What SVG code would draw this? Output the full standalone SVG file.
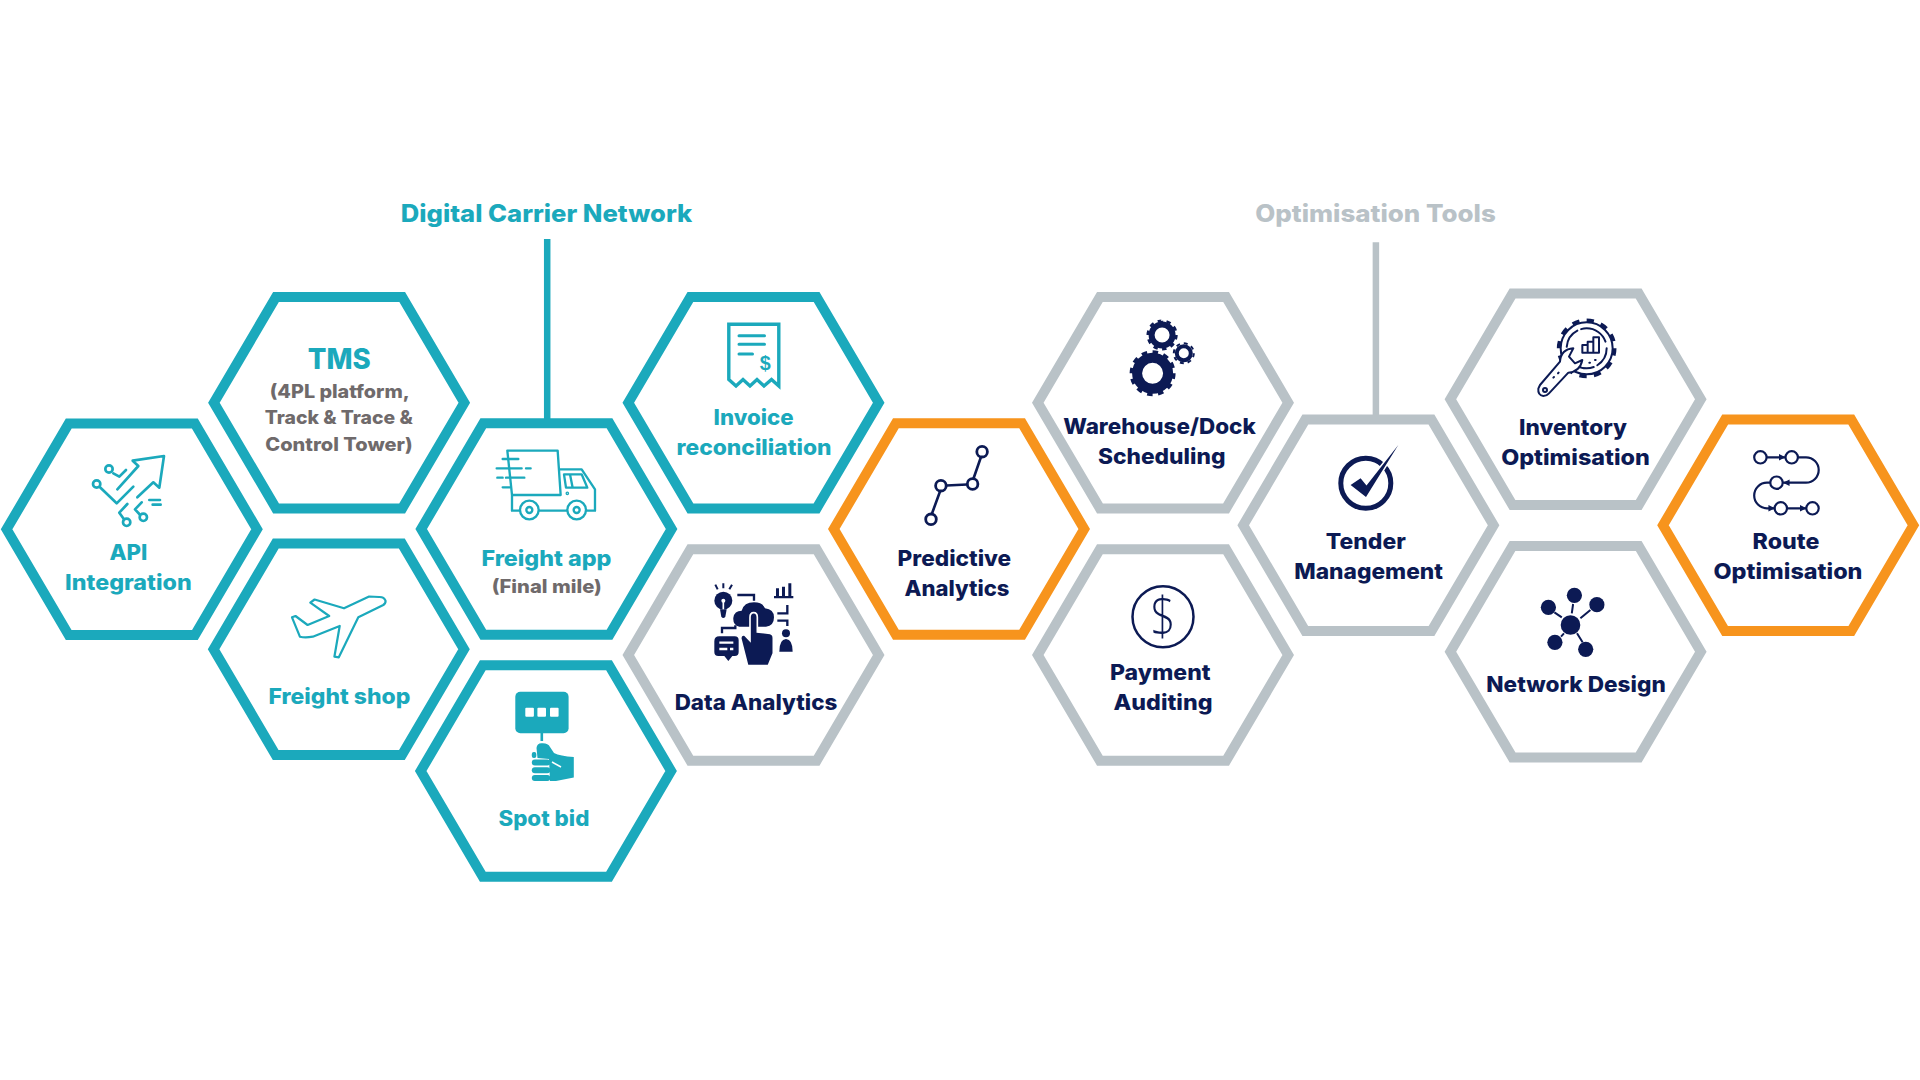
<svg xmlns="http://www.w3.org/2000/svg" width="1920" height="1080" viewBox="0 0 1920 1080">
<style>
.hx{fill:none;stroke-width:10;stroke-linejoin:miter}
.teal{stroke:#1ba9bc}.gray{stroke:#b9c2c7}.orange{stroke:#f7941d}
text{font-family:"Inter","Noto Sans","Liberation Sans",sans-serif;font-weight:800;text-anchor:middle}
.l{font-size:21.5px}
.t{fill:#1ba9bc}.n{fill:#0c1a54}.s{fill:#6f6a6b;font-size:18.5px}
.h{font-size:24px}
.it{fill:none;stroke:#1ba9bc;stroke-linecap:round;stroke-linejoin:round}
.in{fill:none;stroke:#0c1a54;stroke-linecap:round;stroke-linejoin:round}
.fn{fill:#0c1a54}.ft{fill:#1ba9bc}
.wh{fill:#fff}
</style>
<defs>
<polygon id="hex" points="-63.1,-105.7 63.1,-105.7 125.2,0 63.1,105.7 -63.1,105.7 -125.2,0"/>
<marker id="ah" viewBox="0 0 6 6" refX="5.5" refY="3" markerWidth="3" markerHeight="3" orient="auto"><path d="M0,0L6,3L0,6Z" fill="#0c1a54"/></marker>
</defs>
<rect width="1920" height="1080" fill="#fff"/>

<g id="connectors">
<line x1="547.2" y1="239" x2="547.2" y2="420" stroke="#1ba9bc" stroke-width="6.5"/>
<line x1="1375.9" y1="242.3" x2="1375.9" y2="416" stroke="#b9c2c7" stroke-width="6.5"/>
</g>

<g id="heading-digital"><text class="h t" x="546.5" y="221.7" textLength="291.5" lengthAdjust="spacingAndGlyphs">Digital Carrier Network</text></g>
<g id="heading-optimisation"><text class="h" fill="#b9c2c7" x="1375.5" y="221.7" textLength="240.5" lengthAdjust="spacingAndGlyphs">Optimisation Tools</text></g>

<g id="node-api">
<use href="#hex" class="hx teal" x="131.8" y="529.3"/>
<g class="it" stroke-width="8" transform="translate(80,440) scale(.3333)">
<path d="M172,172L220,127L238,143L252,48L158,62L175,78L112,148"/>
<circle cx="87" cy="87" r="11"/><path d="M100,100L118,110L138,90"/>
<circle cx="50" cy="132" r="11"/><path d="M60,142L110,190L160,140"/>
<path d="M240,180H208M242,194H218"/>
<path d="M142,192L118,218L132,238"/><circle cx="140" cy="247" r="11"/>
<path d="M185,187L165,208L178,222"/><circle cx="190" cy="232" r="11"/>
</g>
<text class="l t" x="128.4" y="560" textLength="38" lengthAdjust="spacingAndGlyphs">API</text>
<text class="l t" x="128.4" y="590" textLength="126.6" lengthAdjust="spacingAndGlyphs">Integration</text>
</g>

<g id="node-tms">
<use href="#hex" class="hx teal" x="339.1" y="402.7"/>
<text class="t" font-size="28" x="339.3" y="368.7" textLength="63" lengthAdjust="spacingAndGlyphs">TMS</text>
<text class="s" x="339.8" y="398.3" textLength="140" lengthAdjust="spacingAndGlyphs">(4PL platform,</text>
<text class="s" x="338.7" y="424" textLength="148" lengthAdjust="spacingAndGlyphs">Track &amp; Trace &amp;</text>
<text class="s" x="339" y="450.7" textLength="147.4" lengthAdjust="spacingAndGlyphs">Control Tower)</text>
</g>

<g id="node-freight-app">
<use href="#hex" class="hx teal" x="546.4" y="529"/>
<g class="it" stroke-width="7" transform="translate(480,440) scale(.3333)">
<path d="M96,165L82,32H233L242,165H98"/>
<path d="M96,165V212H120M178,212H260M320,212H345V148L305,88H238"/>
<path d="M252,103H305L322,143H258ZM270,103L278,143"/>
<path d="M68,57H115M50,85H125M138,85H152M52,113H68M78,113H133M68,142H90"/>
<circle cx="262" cy="160" r="2"/>
<circle cx="148" cy="210" r="28" fill="#fff"/><circle cx="148" cy="210" r="9"/>
<circle cx="290" cy="210" r="28" fill="#fff"/><circle cx="290" cy="210" r="9"/>
</g>
<text class="l t" x="546.4" y="566" textLength="130" lengthAdjust="spacingAndGlyphs">Freight app</text>
<text class="s" x="546.8" y="592.7" textLength="110" lengthAdjust="spacingAndGlyphs">(Final mile)</text>
</g>

<g id="node-freight-shop">
<use href="#hex" class="hx teal" x="338.8" y="649.3"/>
<path class="it" stroke-width="2.2" d="M385.5,600.7Q384,596.7 379,597L369.1,596.5L344,608.3L314.6,599.5L310.3,602.7L329.2,616L307.6,625L295.5,616L292,617.3L299.9,636.7Q305,638 312.8,636.7L339.7,626L334.4,656.7L338.8,657.3L358.3,617.3L383.3,605Q386,603 385.5,600.7Z"/>
<text class="l t" x="339.4" y="704" textLength="141.8" lengthAdjust="spacingAndGlyphs">Freight shop</text>
</g>

<g id="node-spot-bid">
<use href="#hex" class="hx teal" x="545.9" y="771"/>
<rect class="ft" x="515.3" y="691.7" width="53.3" height="41.6" rx="5"/>
<g class="wh"><rect x="525.3" y="707.7" width="8.6" height="9" rx="1"/><rect x="537.4" y="707.7" width="8.6" height="9" rx="1"/><rect x="550" y="707.7" width="8.6" height="9" rx="1"/></g>
<rect class="ft" x="540.5" y="733" width="2.6" height="8"/>
<path class="ft" d="M536.5,748Q537,743 542,743.3Q548,743 550,747L554,753Q560,756 573.8,757V777.5L556,781H550L549,759L537.5,758Z"/>
<g class="ft"><rect x="531.8" y="752" width="4.5" height="6" rx="2"/><rect x="531.8" y="759.5" width="18.5" height="6" rx="3"/><rect x="531.8" y="767.3" width="18.5" height="6" rx="3"/><rect x="531.8" y="775" width="18.5" height="6" rx="3"/></g>
<path d="M552,762L561,767" stroke="#fff" stroke-width="1.5" fill="none"/>
<text class="l t" x="543.9" y="825.7" textLength="91" lengthAdjust="spacingAndGlyphs">Spot bid</text>
</g>

<g id="node-invoice">
<use href="#hex" class="hx teal" x="753.5" y="402.7"/>
<path class="it" stroke-width="3.4" style="stroke-linecap:butt;stroke-linejoin:miter" d="M728.8,324.3H778.8V386L771.5,379.5L764,386L757,379.5L750,386L743,379.5L736,386L728.8,379.5Z"/>
<path class="it" stroke-width="3" d="M739,335.7H764.5M739,344.3H764.5M739,354H752.5"/>
<text class="t" font-size="21" style="font-family:'Liberation Sans',sans-serif" x="765.3" y="369.5" textLength="11" lengthAdjust="spacingAndGlyphs">$</text>
<text class="l t" x="753.6" y="425" textLength="80" lengthAdjust="spacingAndGlyphs">Invoice</text>
<text class="l t" x="754" y="455" textLength="155" lengthAdjust="spacingAndGlyphs">reconciliation</text>
</g>

<g id="node-data-analytics">
<use href="#hex" class="hx gray" x="753.5" y="655"/>
<g transform="translate(700,570) scale(.3333)">
<circle class="fn" cx="70" cy="92" r="27"/><path class="fn" d="M60,118H80L76,140Q70,148 64,140Z"/>
<circle class="wh" cx="70" cy="92" r="6"/><rect class="wh" x="67.5" y="92" width="5" height="26"/>
<path class="in" stroke-width="6" style="stroke-linecap:butt" d="M46,44L53,58M70,40V55M96,44L88,58"/>
<path class="fn" d="M222,78H280V85H222ZM228,55H237V80H228ZM246,50H255V80H246ZM265,40H274V80H265Z"/>
<path class="in" stroke-width="7" style="stroke-linecap:butt;stroke-linejoin:miter" d="M112,75H162V92M232,130H262V105M232,152H262V168M66,190V174H106V166"/>
<path class="fn" d="M118,170Q98,165 100,143Q103,122 125,122Q132,97 162,97Q188,97 195,115Q222,118 222,142Q222,168 198,170Z"/>
<path class="fn" stroke="#fff" stroke-width="5" d="M150,142Q150,128 161,128Q172,128 172,142V186L210,190Q220,192 220,204V250L205,287H143L122,205Q124,192 135,196L150,212Z"/>
<path class="fn" d="M58,199H104Q116,199 116,211V246Q116,258 104,258H97L85,273L73,258H55Q43,258 43,246V214Q43,199 58,199Z"/>
<path stroke="#fff" stroke-width="7" fill="none" d="M58,218H100M58,237H82M90,237H100"/>
<circle class="fn" cx="258" cy="190" r="12"/><path class="fn" d="M238,245Q238,208 258,207Q278,208 278,245Z"/>
</g>
<text class="l n" x="756" y="710.3" textLength="162.6" lengthAdjust="spacingAndGlyphs">Data Analytics</text>
</g>

<g id="node-predictive">
<use href="#hex" class="hx orange" x="959" y="529"/>
<path class="in" stroke-width="2.6" d="M932,513.5L940,491.5M946.5,485.5L967,484.5M973.7,478L980.8,457.5"/>
<g class="in" stroke-width="2.8"><circle cx="931" cy="519.3" r="5.3"/><circle cx="940.9" cy="485.7" r="5.3"/><circle cx="972.6" cy="484" r="5.3"/><circle cx="982.1" cy="451.7" r="5.3"/></g>
<text class="l n" x="954.4" y="565.7" textLength="113.6" lengthAdjust="spacingAndGlyphs">Predictive</text>
<text class="l n" x="957" y="595.7" textLength="105" lengthAdjust="spacingAndGlyphs">Analytics</text>
</g>

<g id="node-warehouse">
<use href="#hex" class="hx gray" x="1163" y="402.7"/>
<g fill="none" stroke="#0c1a54">
<circle cx="1152.6" cy="373.3" r="15.5" stroke-width="10"/><circle cx="1152.6" cy="373.3" r="21" stroke-width="4" pathLength="24" stroke-dasharray="1 1"/>
<circle cx="1162.1" cy="335" r="10.5" stroke-width="6"/><circle cx="1162.1" cy="335" r="14.3" stroke-width="2.6" pathLength="20" stroke-dasharray="1 1"/>
<circle cx="1183.8" cy="353.3" r="7" stroke-width="4"/><circle cx="1183.8" cy="353.3" r="10" stroke-width="2" pathLength="16" stroke-dasharray="1 1"/>
</g>
<text class="l n" x="1159.5" y="434.3" textLength="192.5" lengthAdjust="spacingAndGlyphs">Warehouse/Dock</text>
<text class="l n" x="1161.7" y="464.3" textLength="127.5" lengthAdjust="spacingAndGlyphs">Scheduling</text>
</g>

<g id="node-payment">
<use href="#hex" class="hx gray" x="1163" y="655"/>
<circle class="in" stroke-width="2.5" cx="1163" cy="616.7" r="30.5"/>
<text class="n" font-size="53" style="font-family:'Open Sans',sans-serif;font-weight:300" x="1163" y="634.5" textLength="25" lengthAdjust="spacingAndGlyphs">$</text>
<text class="l n" x="1160.3" y="680" textLength="100.6" lengthAdjust="spacingAndGlyphs">Payment</text>
<text class="l n" x="1163" y="710" textLength="99" lengthAdjust="spacingAndGlyphs">Auditing</text>
</g>

<g id="node-tender">
<use href="#hex" class="hx gray" x="1368.4" y="525.3"/>
<circle class="in" stroke-width="5" cx="1365.8" cy="483.3" r="25"/>
<path class="fn" stroke="#fff" stroke-width="3" style="paint-order:stroke" d="M1350.6,485L1360.6,478.3L1366.5,485.5L1398.3,445L1366,497Z"/>
<text class="l n" x="1365.8" y="549.3" textLength="80" lengthAdjust="spacingAndGlyphs">Tender</text>
<text class="l n" x="1368.6" y="579.3" textLength="148.7" lengthAdjust="spacingAndGlyphs">Management</text>
</g>

<g id="node-inventory">
<use href="#hex" class="hx gray" x="1575.6" y="399.3"/>
<g transform="translate(1525,310) scale(.3333)" class="in" stroke-width="6">
<circle cx="185" cy="115" r="84" stroke-width="11" pathLength="24" stroke-dasharray="1 1" style="stroke-linecap:butt"/>
<circle cx="185" cy="115" r="78" fill="#fff"/>
<circle cx="185" cy="115" r="60" stroke-dasharray="60 12 90 30"/>
<path d="M172,128V105H188V128ZM188,128V95H205V128ZM205,128V82H222V128Z"/>
<path fill="#fff" d="M40,236Q38,256 55,258Q65,258 72,250L130,188Q165,185 172,150L150,160L132,140L145,115Q108,118 105,155L45,225Z"/>
<circle cx="60" cy="240" r="6"/><path d="M85,203L87,201M99,190L101,188M193,158L195,158M210,150L212,150"/>
</g>
<text class="l n" x="1573" y="435" textLength="108" lengthAdjust="spacingAndGlyphs">Inventory</text>
<text class="l n" x="1575.5" y="465.3" textLength="148.7" lengthAdjust="spacingAndGlyphs">Optimisation</text>
</g>

<g id="node-network">
<use href="#hex" class="hx gray" x="1575.6" y="651.7"/>
<path class="in" stroke-width="2" style="stroke-linecap:butt" d="M1571.8,613.3L1573.1,604M1561.8,617.3L1554.4,612.3M1580.4,618.3L1590.4,610M1564,633.3L1561,636.7M1577,633.3L1582.6,642.3"/>
<g class="fn"><circle cx="1570.5" cy="625" r="9.8"/><circle cx="1574.4" cy="595.3" r="7.6"/><circle cx="1548.4" cy="607.3" r="7.6"/><circle cx="1596.9" cy="604.7" r="7.6"/><circle cx="1554.9" cy="642.3" r="7.6"/><circle cx="1585.7" cy="649.3" r="7.6"/></g>
<text class="l n" x="1576" y="691.7" textLength="179.5" lengthAdjust="spacingAndGlyphs">Network Design</text>
</g>

<g id="node-route">
<use href="#hex" class="hx orange" x="1788.2" y="525.3"/>
<g class="in" stroke-width="2.2">
<circle cx="1760.4" cy="457.3" r="6.2"/><circle cx="1791.7" cy="457.3" r="6.2"/><circle cx="1776.5" cy="482.7" r="6.2"/><circle cx="1780.8" cy="508.3" r="6.2"/><circle cx="1812.5" cy="508.3" r="6.2"/>
<path d="M1767,457.3H1785" marker-end="url(#ah)"/>
<path d="M1798,457.3H1806A12.7,12.7 0 0 1 1806,482.7H1783.5" marker-end="url(#ah)"/>
<path d="M1770,482.7H1767A12.8,12.8 0 0 0 1767,508.3H1774.5" marker-end="url(#ah)"/>
<path d="M1787,508.3H1806" marker-end="url(#ah)"/>
</g>
<text class="l n" x="1786" y="549.3" textLength="66.8" lengthAdjust="spacingAndGlyphs">Route</text>
<text class="l n" x="1788" y="579.3" textLength="149" lengthAdjust="spacingAndGlyphs">Optimisation</text>
</g>
</svg>
